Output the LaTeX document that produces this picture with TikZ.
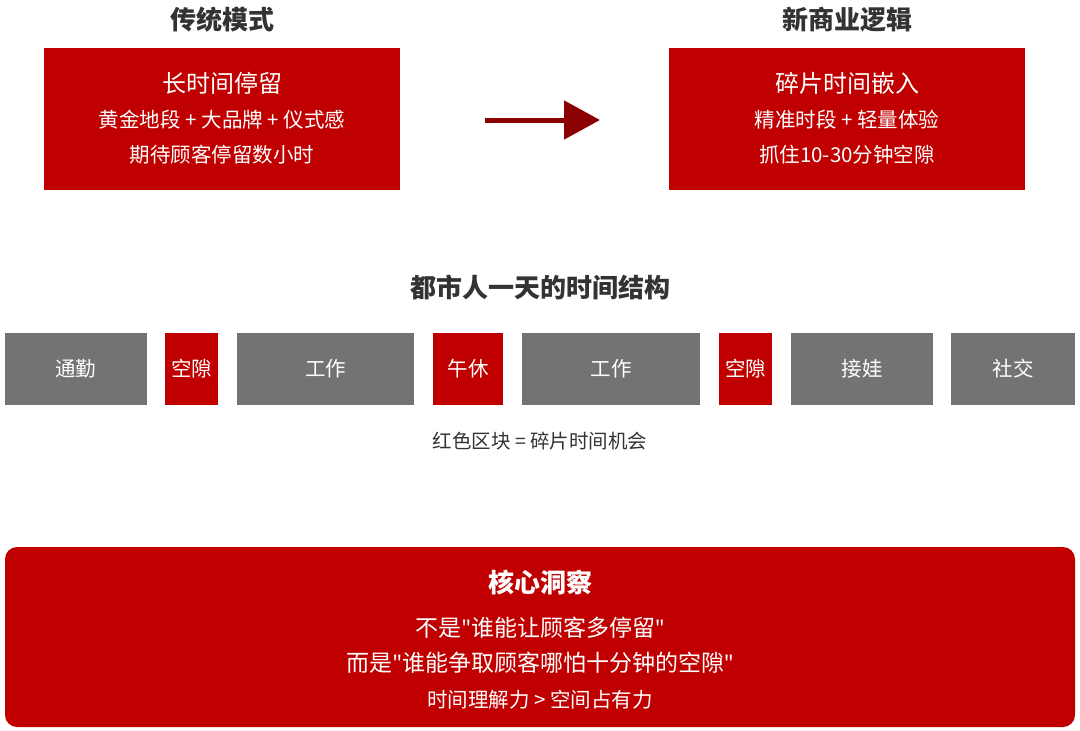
\documentclass[tikz,border=0pt]{standalone}
\usepackage{fontspec}
\setmainfont{Noto Sans CJK SC}
\newfontfamily\latinfont{Noto Sans}
\usetikzlibrary{arrows.meta}
\definecolor{myred}{HTML}{C00000}
\definecolor{mygray}{HTML}{737373}
\definecolor{dark}{HTML}{333333}
\definecolor{arr}{HTML}{8B0000}
\tikzset{
 fz/.style={font=\fontsize{#1}{#1}\selectfont},
 redbox/.style={fill=myred,draw=none,text=white},
 graybox/.style={fill=mygray,draw=none,text=white},
 ttl/.style={text=dark,font=\fontsize{26}{26}\selectfont\bfseries},
 wt/.style={text=white},
}
\newcommand{\dq}{{\latinfont\char34}}
\begin{document}
\begin{tikzpicture}[x=1pt,y=-1pt]
\useasboundingbox (0,0) rectangle (1080,731);
\node[ttl] (t1) at (222,20) {传统模式};
\node[ttl] (t2) at (847,20) {新商业逻辑};
\fill[myred] (44,48) rectangle (400,190);
\fill[myred] (669,48) rectangle (1025,190);
\node[wt,fz=24] (a1) at (222,83) {长时间停留};
\node[wt,fz=20.5] (a2) at (222,120) {黄金地段 + 大品牌 + 仪式感};
\node[wt,fz=20.5] (a3) at (222,155) {期待顾客停留数小时};
\node[wt,fz=24] (b1) at (847,83) {碎片时间嵌入};
\node[wt,fz=20.5] (b2) at (847,120) {精准时段 + 轻量体验};
\node[wt,fz=20.5] (b3) at (847,155) {抓住10-30分钟空隙};
\coordinate (p1) at (485,120);
\coordinate (p2) at (600,120);
\draw[arr,line width=5pt,-{Triangle[length=36pt,width=38pt]}] (p1) -- (p2);
\node[ttl] (mid) at (540,287) {都市人一天的时间结构};
\foreach \x/\w/\s/\t [count=\i] in {5/147/graybox/通勤,165/218/redbox/空隙,237/414/graybox/工作,433/503/redbox/午休,522/700/graybox/工作,719/772/redbox/空隙,791/933/graybox/接娃,951/1075/graybox/社交}{
 \fill[\s] (\x,333) rectangle (\w,405);
 \node[wt,fz=20.5] (s\i) at ({(\x+\w)/2},369) {\t};
}
\node[text=dark,fz=19.5] (cap) at (540,441) {红色区块 = 碎片时间机会};
\fill[myred,rounded corners=12pt] (5,547) rectangle (1075,727);
\node[wt,font=\fontsize{26}{26}\selectfont\bfseries] (c1) at (540,582) {核心洞察};
\node[wt,fz=23] (c2) at (540,628) {不是\dq 谁能让顾客多停留\dq};
\node[wt,fz=23] (c3) at (540,663) {而是\dq 谁能争取顾客哪怕十分钟的空隙\dq};
\node[wt,fz=20.5] (c4) at (540,700) {时间理解力 > 空间占有力};
\end{tikzpicture}
\end{document}
